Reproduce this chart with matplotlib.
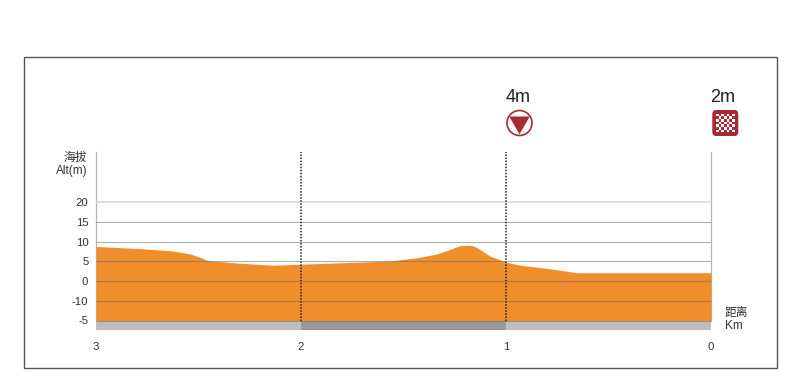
import matplotlib
matplotlib.use("Agg")
import matplotlib.pyplot as plt
from matplotlib.patches import Rectangle, Circle, Polygon, FancyBboxPatch

plt.rcParams['font.family'] = ['Liberation Sans', 'Noto Sans CJK SC', 'DejaVu Sans']

km_marks = [3, 2, 1, 0]
alt_ticks = [20, 15, 10, 5, 0, -5, -10]
alt_labels = ['20', '15', '10', '5', '0', '-10', '-5']
profile_km = [3.0, 2.785, 2.624, 2.541, 2.493, 2.454, 2.298, 2.137, 2.005, 1.566,
              1.42, 1.337, 1.273, 1.224, 1.19, 1.161, 1.127, 1.078, 1.0, 0.932, 0.8, 0.654, 0.0]
profile_alt = [8.75, 8.2, 7.6, 6.85, 6.0, 5.15, 4.5, 4.0, 4.25, 5.05,
               6.0, 6.85, 8.0, 8.95, 9.05, 8.95, 8.0, 6.3, 4.8, 4.0, 3.2, 2.1, 2.1]
strip_segments = [(3, 2, '#bebebe'), (2, 1, '#999999'), (1, 0, '#bebebe')]
sprint_labels = [(1, '4m'), (0, '2m')]

W, H = 800, 390
fig = plt.figure(figsize=(W / 100, H / 100), dpi=100, facecolor='white')

# main axes: km 3 at x=96, km 0 at x=711; top y=152, bottom y=330
L, R, T, B = 96, 711, 152, 330
ax = fig.add_axes([L / W, 1 - B / H, (R - L) / W, (B - T) / H])
ax.set_xlim(3, 0)
ax.set_ylim(-10 - 9.5 / 3.95, 20 + 50 / 3.95)
ax.patch.set_alpha(0)
for s in ax.spines.values():
    s.set_visible(False)

ax.fill_between(profile_km, -10, profile_alt, color='#f18e2c', lw=0, zorder=2)
for a, b, c in strip_segments:
    ax.fill_between([a, b], ax.get_ylim()[0], -10, color=c, lw=0, zorder=2)

for t in alt_ticks:
    if t == 20:
        ax.plot([3, 0], [t, t], color='#d9d9d9', lw=1.2, zorder=3, solid_capstyle='butt')
    else:
        ax.plot([3, 0], [t, t], color='#6e6e6e', alpha=0.55, lw=0.8, zorder=3, solid_capstyle='butt')

top = ax.get_ylim()[1]
ax.plot([3, 3], [-10, top], color='#b5b5b5', lw=0.9, zorder=1, clip_on=False)
ax.plot([0, 0], [-10, top], color='#b5b5b5', lw=0.9, zorder=1, clip_on=False)
for k in km_marks[1:3]:
    ax.plot([k, k], [-10, top], color='#222222', lw=1.1, ls=(0, (1, 1)), zorder=4)

ax.set_xticks(km_marks)
ax.set_xticklabels([str(k) for k in km_marks], fontsize=8.2, color='#333333')
ax.tick_params(axis='x', length=0, pad=8.5)
ax.set_yticks(alt_ticks)
ax.set_yticklabels(alt_labels, fontsize=8.2, color='#333333')
ax.tick_params(axis='y', length=0, pad=5.5)

# overlay in pixel coordinates for frame, headings and icons
ov = fig.add_axes([0, 0, 1, 1], zorder=5)
ov.set_xlim(0, W)
ov.set_ylim(H, 0)
ov.axis('off')
ov.add_patch(Rectangle((24, 57), 753, 311, fill=False, ec='#555555', lw=1.0))

ov.text(87.5, 158, '海拔', ha='right', va='center', fontsize=8.5, color='#333333')
ov.text(87.5, 171, 'Alt(m)', ha='right', va='center', fontsize=8.5, color='#333333')
ov.text(725, 313, '距离', ha='left', va='center', fontsize=8.5, color='#333333')
ov.text(725, 326, 'Km', ha='left', va='center', fontsize=8.5, color='#333333')

xpx = lambda k: R + (L - R) * k / 3
for k, lab in sprint_labels:
    ov.text(xpx(k) + 12, 97, lab, ha='center', va='center', fontsize=13, color='#222222')

red = '#a92a33'
cx, cy = xpx(1) + 13.5, 123
ov.add_patch(Circle((cx, cy), 12.5, fc='white', ec=red, lw=1.2))
ov.add_patch(Polygon([(cx - 10.3, cy - 6.5), (cx + 10.3, cy - 6.5), (cx, cy + 11.3)], fc=red, ec='none'))

fx, fy = xpx(0) + 1.3, 110
ov.add_patch(FancyBboxPatch((fx + 3, fy + 3), 20, 20, boxstyle='round,pad=3,rounding_size=4', fc=red, ec='none'))
n, c = 7, 2.65
x0, y0 = fx + 13 - n * c / 2, fy + 13 - n * c / 2
for i in range(n):
    for j in range(n):
        if (i + j) % 2 == 0:
            ov.add_patch(Rectangle((x0 + i * c, y0 + j * c), c, c, fc='white', ec='none'))

fig.savefig('out.png', dpi=100)
